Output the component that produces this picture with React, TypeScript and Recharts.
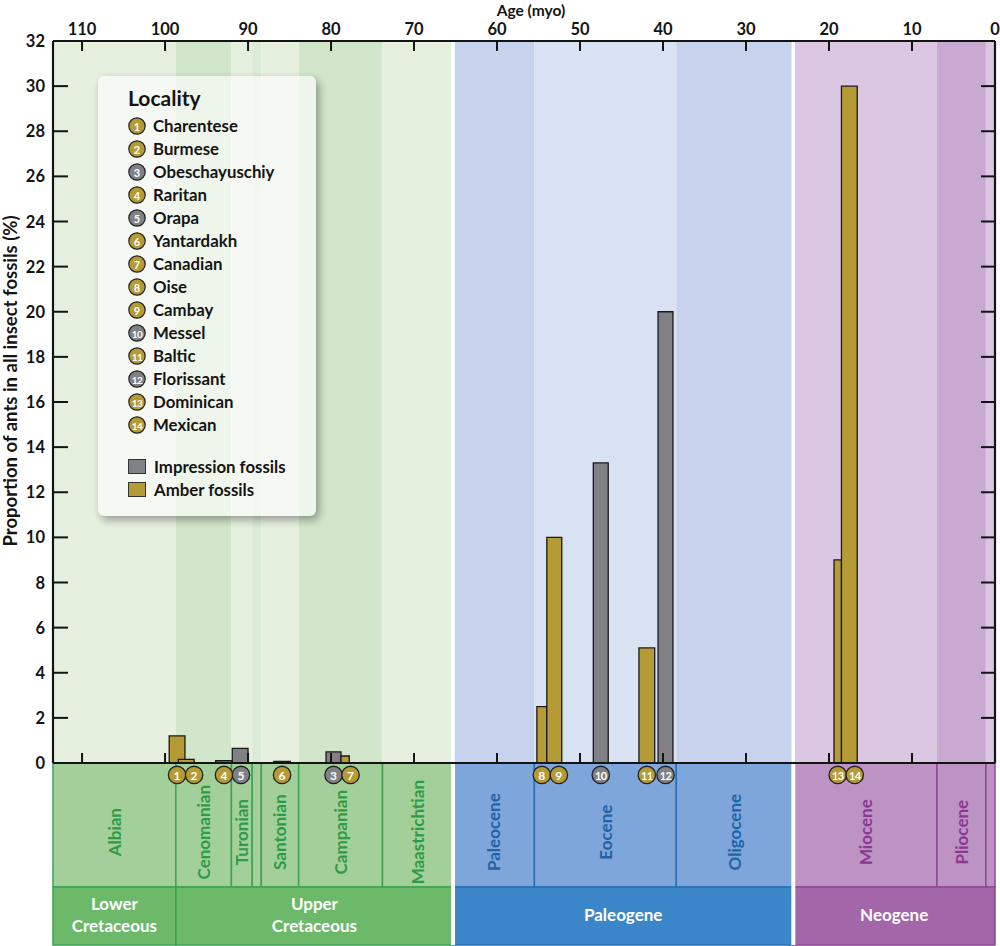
import React from 'react';
import { ComposedChart, XAxis, YAxis, ReferenceArea, ReferenceLine, ReferenceDot, Legend } from 'recharts';

// fossil localities, numbered as in the key
const localities = ['Charentese', 'Burmese', 'Obeschayuschiy', 'Raritan', 'Orapa', 'Yantardakh', 'Canadian', 'Oise', 'Cambay', 'Messel', 'Baltic', 'Florissant', 'Dominican', 'Mexican'];
const fossilKind = ['amber', 'amber', 'impression', 'amber', 'impression', 'amber', 'amber', 'amber', 'amber', 'impression', 'amber', 'impression', 'amber', 'amber'];
// age span of each deposit (myo): older edge / younger edge
const ageOlder = [99.5, 98.4, 80.6, 93.9, 91.9, 86.9, 78.8, 55.2, 54.0, 48.4, 42.9, 40.6, 19.4, 18.5];
const ageYounger = [97.6, 96.5, 78.8, 91.9, 90.0, 84.9, 77.8, 54.0, 52.2, 46.6, 41.0, 38.8, 18.5, 16.6];
// proportion of ants in all insect fossils (%)
const antShare = [1.2, 0.16, 0.49, 0.1, 0.65, 0.07, 0.31, 2.5, 10.0, 13.3, 5.1, 20.0, 9.0, 30.0];

const ageTicks = [0, 10, 20, 30, 40, 50, 60, 70, 80, 90, 100, 110];
const shareTicks = [0, 2, 4, 6, 8, 10, 12, 14, 16, 18, 20, 22, 24, 26, 28, 30, 32];

// geological time scale
const stageNames = ['Albian', 'Cenomanian', 'Turonian', '', 'Santonian', 'Campanian', 'Maastrichtian', 'Paleocene', 'Eocene', 'Oligocene', 'Miocene', 'Pliocene', ''];
const stageEra = ['K', 'K', 'K', 'K', 'K', 'K', 'K', 'Pg', 'Pg', 'Pg', 'Ng', 'Ng', 'Ng'];
const stageOlder = [113.5, 98.7, 92.0, 89.5, 88.4, 83.9, 73.8, 65.3, 55.5, 38.4, 24.3, 7.0, 1.1];
const stageYounger = [98.7, 92.0, 89.5, 88.4, 83.9, 73.8, 65.3, 55.5, 38.4, 24.3, 7.0, 1.1, 0];

const periodNames = [['Lower', 'Cretaceous'], ['Upper', 'Cretaceous'], ['Paleogene'], ['Neogene']];
const periodEra = ['K', 'K', 'Pg', 'Ng'];
const periodOlder = [113.5, 98.7, 65.3, 24.3];
const periodYounger = [98.7, 65.3, 24.3, 0];

const eraBoundaries = [65.3, 24.3];
const AGE_MAX = 113.5;

// ---- styles ----
const FONT = "Lato, 'Open Sans', sans-serif";
const INK = '#141414';
const AMBER = '#B59B36';
const GREY = '#808184';
const kindColor: Record<string, string> = { amber: AMBER, impression: GREY };

const eraStyle: Record<string, any> = {
  K: { light: '#E6F0DF', dark: '#D2E6CB', mid: '#DCEBD5', stage: '#A3CF9B', period: '#6CB96A', line: '#3DA353', text: '#2E9C47' },
  Pg: { light: '#D9E2F3', dark: '#C7D3EC', mid: '#D0DBF0', stage: '#7EA6DA', period: '#3B86C8', line: '#2B6FB4', text: '#1F64A7' },
  Ng: { light: '#DBC7E2', dark: '#C9A9D2', mid: '#D2B8DA', stage: '#BD93C3', period: '#A266A9', line: '#8C4A92', text: '#8B3990' },
};
const stageTone = ['light', 'dark', 'light', 'mid', 'light', 'dark', 'light', 'dark', 'light', 'dark', 'light', 'dark', 'light'];

// layout
const W = 1000;
const PLOT_TOP = 41;
const PLOT_BOTTOM = 763;
const TAG_Y = -0.53; // tags hang just under the age axis
const ROW_SPLIT = 0.319; // period row / stage row in the time-scale strip
const STAGE_LABEL_Y = 0.62;
const PERIOD_LABEL_Y = 0.165;

const barData = localities.map((name, i) => ({
  name,
  older: ageOlder[i],
  younger: ageYounger[i],
  share: antShare[i],
  kind: fossilKind[i],
}));

// numbered tags sit under their bars, pushed right when they would collide
const TAG_GAP = 2.05;
const tagAge: number[] = [];
{
  const mid = (i: number) => (ageOlder[i] + ageYounger[i]) / 2;
  const order = localities.map((_, i) => i).sort((a, b) => mid(b) - mid(a));
  let prev = Infinity;
  order.forEach((i) => {
    const a = Math.min(mid(i), prev - TAG_GAP);
    tagAge[i] = a;
    prev = a;
  });
}

const textStyle = { fontFamily: FONT, fontWeight: 700 };

const LeftTick = ({ x, y, payload }: any) => (
  <g>
    <line x1={x} y1={y} x2={x + 15} y2={y} stroke={INK} strokeWidth={2} />
    <text x={x - 8} y={y} textAnchor="end" dominantBaseline="central" fontSize={16.5} fill={INK} style={textStyle}>
      {payload.value}
    </text>
  </g>
);

const RightTick = ({ x, y }: any) => <line x1={x - 14} y1={y} x2={x} y2={y} stroke={INK} strokeWidth={2} />;

const TopTick = ({ x, y, payload }: any) => (
  <g>
    <line x1={x} y1={y} x2={x} y2={y + 10} stroke={INK} strokeWidth={2} />
    <text x={x} y={y - 12} textAnchor="middle" dominantBaseline="central" fontSize={16.5} fill={INK} style={textStyle}>
      {payload.value}
    </text>
  </g>
);

const BottomTick = ({ x, y }: any) => <line x1={x} y1={y} x2={x} y2={y - 10} stroke={INK} strokeWidth={2} />;

const AgeTitle = () => (
  <text x={531} y={10} textAnchor="middle" dominantBaseline="central" fontSize={15.5} fill={INK} style={textStyle}>
    Age (myo)
  </text>
);

const ShareTitle = () => {
  const cy = 381;
  return (
    <text x={10} y={cy} transform={`rotate(-90 10 ${cy})`} textAnchor="middle" dominantBaseline="central" fontSize={18.5} fill={INK} style={textStyle}>
      Proportion of ants in all insect fossils (%)
    </text>
  );
};

const tagShape = (n: number, color: string) => (p: any) => (
  <g>
    <circle cx={p.cx} cy={p.cy} r={8.7} fill={color} stroke="#222" strokeWidth={1.3} />
    <text x={p.cx} y={p.cy + 0.5} textAnchor="middle" dominantBaseline="central" fill="#fff" fontSize={n > 9 ? 11 : 12} letterSpacing={n > 9 ? -0.6 : 0} style={textStyle}>
      {n}
    </text>
  </g>
);

const stageLabel = (text: string, color: string) => (p: any) => (
  <text x={p.cx} y={p.cy} transform={`rotate(-90 ${p.cx} ${p.cy})`} textAnchor="middle" dominantBaseline="central" fill={color} fontSize={17} style={textStyle}>
    {text}
  </text>
);

const periodLabel = (lines: string[]) => (p: any) => (
  <text textAnchor="middle" fill="#fff" fontSize={17} style={textStyle}>
    {lines.map((ln, k) => (
      <tspan key={k} x={p.cx} y={p.cy + (k - (lines.length - 1) / 2) * 22} dominantBaseline="central">
        {ln}
      </tspan>
    ))}
  </text>
);

const KeyDot = ({ n, color }: { n: number; color: string }) => (
  <svg width={18} height={18} style={{ marginRight: 7, flex: 'none' }}>
    <circle cx={9} cy={9} r={8.2} fill={color} stroke="#222" strokeWidth={1.2} />
    <text x={9} y={9.5} textAnchor="middle" dominantBaseline="central" fill="#fff" fontSize={n > 9 ? 10 : 11} letterSpacing={n > 9 ? -0.6 : 0} style={textStyle}>
      {n}
    </text>
  </svg>
);

const LocalityKey = () => (
  <div
    style={{
      width: 218,
      height: 440,
      boxSizing: 'border-box',
      padding: '10px 0 0 30px',
      background: 'rgba(255,255,255,0.62)',
      borderRadius: 6,
      boxShadow: '3px 4px 8px rgba(0,0,0,0.35)',
      fontFamily: FONT,
      fontWeight: 700,
      color: INK,
      textAlign: 'left',
    }}
  >
    <div style={{ fontSize: 21, lineHeight: '24px', marginBottom: 4 }}>Locality</div>
    {localities.map((name, i) => (
      <div key={name} style={{ display: 'flex', alignItems: 'center', height: 23, fontSize: 16.8 }}>
        <KeyDot n={i + 1} color={kindColor[fossilKind[i]]} />
        {name}
      </div>
    ))}
    <div style={{ height: 19 }} />
    {[
      ['Impression fossils', GREY],
      ['Amber fossils', AMBER],
    ].map(([label, color]) => (
      <div key={label} style={{ display: 'flex', alignItems: 'center', height: 23, fontSize: 16.8 }}>
        <span style={{ width: 16, height: 13, background: color, border: '1px solid #333', marginRight: 8, flex: 'none' }} />
        {label}
      </div>
    ))}
  </div>
);

const TimeScale = () => (
  <ComposedChart width={W} height={946 - PLOT_BOTTOM} data={barData} margin={{ top: 0, right: 5, bottom: 1, left: 53 }}>
    <XAxis type="number" dataKey="older" domain={[0, AGE_MAX]} reversed hide allowDataOverflow />
    <YAxis type="number" domain={[0, 1]} hide allowDataOverflow />
    {stageNames.map((_, i) => (
      <ReferenceArea
        key={`s${i}`}
        x1={stageOlder[i]}
        x2={stageYounger[i]}
        y1={ROW_SPLIT}
        y2={1}
        fill={eraStyle[stageEra[i]].stage}
        fillOpacity={1}
        stroke={eraStyle[stageEra[i]].line}
        strokeWidth={1.5}
      />
    ))}
    {periodNames.map((_, i) => (
      <ReferenceArea
        key={`p${i}`}
        x1={periodOlder[i]}
        x2={periodYounger[i]}
        y1={0}
        y2={ROW_SPLIT}
        fill={eraStyle[periodEra[i]].period}
        fillOpacity={1}
        stroke={eraStyle[periodEra[i]].line}
        strokeWidth={1.5}
      />
    ))}
    {eraBoundaries.map((a) => (
      <ReferenceLine key={a} x={a} stroke="#fff" strokeWidth={4} />
    ))}
    {stageNames.map((name, i) =>
      name ? (
        <ReferenceDot
          key={`sl${i}`}
          x={(stageOlder[i] + stageYounger[i]) / 2}
          y={STAGE_LABEL_Y}
          r={0}
          shape={stageLabel(name, eraStyle[stageEra[i]].text)}
        />
      ) : null
    )}
    {periodNames.map((lines, i) => (
      <ReferenceDot
        key={`pl${i}`}
        x={(periodOlder[i] + periodYounger[i]) / 2}
        y={PERIOD_LABEL_Y}
        r={0}
        shape={periodLabel(lines)}
      />
    ))}
  </ComposedChart>
);

const axisLine = { stroke: INK, strokeWidth: 2.2 };

export default function App() {
  return (
    <div style={{ position: 'absolute', left: 0, top: 0, width: W, height: 946, background: '#fff' }}>
      <div style={{ position: 'absolute', left: 0, top: PLOT_BOTTOM }}>
        <TimeScale />
      </div>
      <div style={{ position: 'absolute', left: 0, top: 0 }}>
        <ComposedChart width={W} height={946} data={barData} margin={{ top: 0, right: 0, bottom: 0, left: 0 }}>
          {/* stage shading behind the bars */}
          {stageNames.map((_, i) => (
            <ReferenceArea
              key={`band${i}`}
              xAxisId="top"
              yAxisId="left"
              x1={stageOlder[i]}
              x2={stageYounger[i]}
              fill={eraStyle[stageEra[i]][stageTone[i]]}
              fillOpacity={1}
              stroke="none"
            />
          ))}
          {eraBoundaries.map((a) => (
            <ReferenceLine key={a} xAxisId="top" yAxisId="left" x={a} stroke="#fff" strokeWidth={3.5} />
          ))}
          {barData.map((d) => (
            <ReferenceArea
              key={d.name}
              xAxisId="top"
              yAxisId="left"
              x1={d.older}
              x2={d.younger}
              y1={0}
              y2={d.share}
              fill={kindColor[d.kind]}
              fillOpacity={1}
              stroke="#1a1a1a"
              strokeWidth={1.3}
            />
          ))}
          <XAxis
            xAxisId="top"
            orientation="top"
            type="number"
            dataKey="older"
            domain={[0, AGE_MAX]}
            reversed
            allowDataOverflow
            ticks={ageTicks}
            interval={0}
            height={PLOT_TOP}
            tickSize={0}
            tickMargin={0}
            tickLine={false}
            axisLine={axisLine}
            tick={TopTick}
            label={{ content: AgeTitle }}
          />
          <XAxis
            xAxisId="bottom"
            orientation="bottom"
            type="number"
            dataKey="older"
            domain={[0, AGE_MAX]}
            reversed
            allowDataOverflow
            ticks={ageTicks}
            interval={0}
            height={946 - PLOT_BOTTOM}
            tickSize={0}
            tickMargin={0}
            tickLine={false}
            axisLine={axisLine}
            tick={BottomTick}
          />
          <YAxis
            yAxisId="left"
            type="number"
            domain={[0, 32]}
            allowDataOverflow
            ticks={shareTicks}
            interval={0}
            width={53}
            tickSize={0}
            tickMargin={0}
            tickLine={false}
            axisLine={axisLine}
            tick={LeftTick}
            label={{ content: ShareTitle }}
          />
          <YAxis
            yAxisId="right"
            orientation="right"
            type="number"
            domain={[0, 32]}
            allowDataOverflow
            ticks={shareTicks}
            interval={0}
            width={5}
            tickSize={0}
            tickMargin={0}
            tickLine={false}
            axisLine={axisLine}
            tick={RightTick}
          />
          {barData.map((d, i) => (
            <ReferenceDot
              key={`tag${i}`}
              xAxisId="top"
              yAxisId="left"
              x={tagAge[i]}
              y={TAG_Y}
              r={8.7}
              ifOverflow="visible"
              shape={tagShape(i + 1, kindColor[d.kind])}
            />
          ))}
          <Legend
            layout="vertical"
            align="center"
            verticalAlign="middle"
            content={<LocalityKey />}
            wrapperStyle={{ position: 'absolute', left: 98, top: 76, width: 218, height: 440 }}
          />
        </ComposedChart>
      </div>
    </div>
  );
}
